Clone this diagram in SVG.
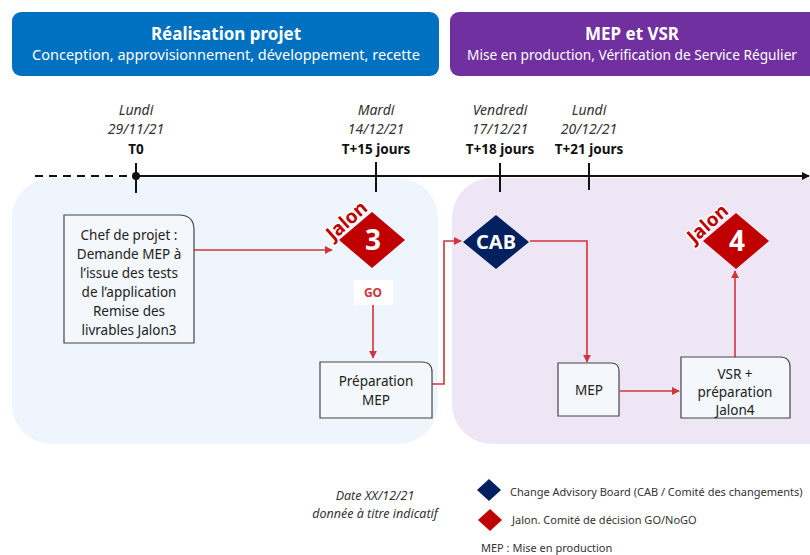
<svg xmlns="http://www.w3.org/2000/svg" width="810" height="555" viewBox="0 0 810 555">
  <defs>
    <marker id="arr" viewBox="0 0 10 10" refX="9" refY="5" markerWidth="8" markerHeight="8" markerUnits="userSpaceOnUse" orient="auto">
      <path d="M0,0 L10,5 L0,10 Z" fill="#D1343C"/>
    </marker>
    <marker id="axis" viewBox="0 0 10 10" refX="9" refY="5" markerWidth="8" markerHeight="8" markerUnits="userSpaceOnUse" orient="auto">
      <path d="M0,0 L10,5 L0,10 Z" fill="#111"/>
    </marker>
  </defs>
  <style>
    text { font-family: "Noto Sans", "Open Sans", sans-serif; }
    .hdT { fill: #fff; font-size: 17px; font-weight: bold; text-anchor: middle; }
    .hdS { fill: #fff; font-size: 14.5px; text-anchor: middle; }
    .day { font-size: 14px; font-style: italic; fill: #333; text-anchor: middle; }
    .tl { font-size: 13.5px; font-weight: bold; fill: #111; text-anchor: middle; }
    .box { fill: #F4F7FB; stroke: #444; stroke-width: 1.2; }
    .bt { font-size: 13.5px; fill: #222; text-anchor: middle; }
    .link { fill: none; stroke: #D1343C; stroke-width: 1.6; marker-end: url(#arr); }
    .tick { stroke: #111; stroke-width: 2; }
    .jal { font-size: 19px; font-weight: bold; fill: #C00000; stroke: #fff; stroke-width: 3; paint-order: stroke; text-anchor: middle; }
    .num { font-size: 28px; font-weight: bold; fill: #fff; text-anchor: middle; }
    .leg { font-size: 11px; fill: #333; }
    .note { font-size: 12.5px; font-style: italic; fill: #333; text-anchor: middle; }
  </style>

  <!-- phase headers -->
  <g id="hdr-realisation">
    <rect x="12" y="12" width="427" height="64" rx="9" fill="#0070C0"/>
    <text class="hdT" x="226" y="40">Réalisation projet</text>
    <text class="hdS" x="226" y="60">Conception, approvisionnement, développement, recette</text>
  </g>
  <g id="hdr-mep">
    <rect x="450" y="12" width="370" height="64" rx="9" fill="#7030A0"/>
    <text class="hdT" x="632" y="40">MEP et VSR</text>
    <text class="hdS" x="632" y="60" style="font-size:13.7px">Mise en production, Vérification de Service Régulier</text>
  </g>

  <!-- phase backgrounds -->
  <rect x="12" y="178" width="426" height="266" rx="40" fill="#EEF5FD"/>
  <rect x="452" y="178" width="400" height="266" rx="40" fill="#EFE6F5"/>

  <!-- timeline -->
  <g id="timeline">
    <line x1="35" y1="176" x2="134" y2="176" stroke="#111" stroke-width="2" stroke-dasharray="8,6"/>
    <line x1="136" y1="176" x2="809" y2="176" stroke="#111" stroke-width="2" marker-end="url(#axis)"/>
    <circle cx="136" cy="176" r="4" fill="#111"/>
    <line class="tick" x1="136" y1="163" x2="136" y2="193"/>
    <line class="tick" x1="376" y1="162" x2="376" y2="192"/>
    <line class="tick" x1="500" y1="163" x2="500" y2="192"/>
    <line class="tick" x1="589" y1="163" x2="589" y2="190"/>
    <text class="day" x="136" y="115">Lundi</text>
    <text class="day" x="136" y="134">29/11/21</text>
    <text class="tl" x="136" y="154">T0</text>
    <text class="day" x="376" y="115">Mardi</text>
    <text class="day" x="376" y="134">14/12/21</text>
    <text class="tl" x="376" y="154">T+15 jours</text>
    <text class="day" x="500" y="115">Vendredi</text>
    <text class="day" x="500" y="134">17/12/21</text>
    <text class="tl" x="500" y="154">T+18 jours</text>
    <text class="day" x="589" y="115">Lundi</text>
    <text class="day" x="589" y="134">20/12/21</text>
    <text class="tl" x="589" y="154">T+21 jours</text>
  </g>

  <!-- connectors -->
  <g id="connectors">
    <path class="link" d="M194,250 H332"/>
    <path class="link" d="M373,305 V358"/>
    <path class="link" d="M432,384 H444 V241 H461"/>
    <path class="link" d="M530,241 H587 V362"/>
    <path class="link" d="M620,391 H679"/>
    <path class="link" d="M735,357 V271"/>
  </g>

  <!-- nodes -->
  <g id="chef-projet">
    <path class="box" d="M64,215 H179 Q194,215 194,230 V343 H64 Z"/>
    <text class="bt" x="129" y="240">Chef de projet :</text>
    <text class="bt" x="129" y="259">Demande MEP à</text>
    <text class="bt" x="129" y="278">l’issue des tests</text>
    <text class="bt" x="129" y="297">de l’application</text>
    <text class="bt" x="129" y="316">Remise des</text>
    <text class="bt" x="129" y="335">livrables Jalon3</text>
  </g>

  <g id="jalon3">
    <polygon points="372,212 405,240 372,268 339,240" fill="#C00000"/>
    <text class="num" x="373" y="250">3</text>
    <text class="jal" x="347" y="227" transform="rotate(-42 347 221)">Jalon</text>
  </g>

  <g id="go">
    <rect x="354" y="280" width="39" height="25" fill="#fff"/>
    <text x="373" y="297" font-size="12" font-weight="bold" fill="#D1343C" text-anchor="middle">GO</text>
  </g>

  <g id="preparation-mep">
    <path class="box" d="M320,362 H422 Q432,362 432,372 V418 H320 Z"/>
    <text class="bt" x="376" y="386">Préparation</text>
    <text class="bt" x="376" y="405">MEP</text>
  </g>

  <g id="cab">
    <polygon points="496,215 529,242 496,269 463,242" fill="#002060"/>
    <text x="496" y="249" font-size="20" font-weight="bold" fill="#fff" text-anchor="middle">CAB</text>
  </g>

  <g id="mep">
    <path class="box" d="M558,363 H611 Q619,363 619,371 V416 H558 Z"/>
    <text class="bt" x="589" y="395">MEP</text>
  </g>

  <g id="vsr">
    <path class="box" d="M681,357 H780 Q790,357 790,367 V418 H681 Z"/>
    <text class="bt" x="735" y="379">VSR +</text>
    <text class="bt" x="735" y="397">préparation</text>
    <text class="bt" x="735" y="415">Jalon4</text>
  </g>

  <g id="jalon4">
    <polygon points="736,213 769,241 736,269 703,241" fill="#C00000"/>
    <text class="num" x="737" y="251">4</text>
    <text class="jal" x="708" y="230" transform="rotate(-42 708 224)">Jalon</text>
  </g>

  <!-- legend -->
  <g id="legend">
    <text class="note" x="375" y="500">Date XX/12/21</text>
    <text class="note" x="375" y="518">donnée à titre indicatif</text>
    <polygon points="489,479 501,490 489,501 477,490" fill="#002060"/>
    <text class="leg" x="510" y="496">Change Advisory Board (CAB / Comité des changements)</text>
    <polygon points="490,509 502,520 490,531 478,520" fill="#C00000"/>
    <text class="leg" x="512" y="524">Jalon. Comité de décision GO/NoGO</text>
    <text class="leg" x="481" y="552">MEP : Mise en production</text>
  </g>
</svg>
